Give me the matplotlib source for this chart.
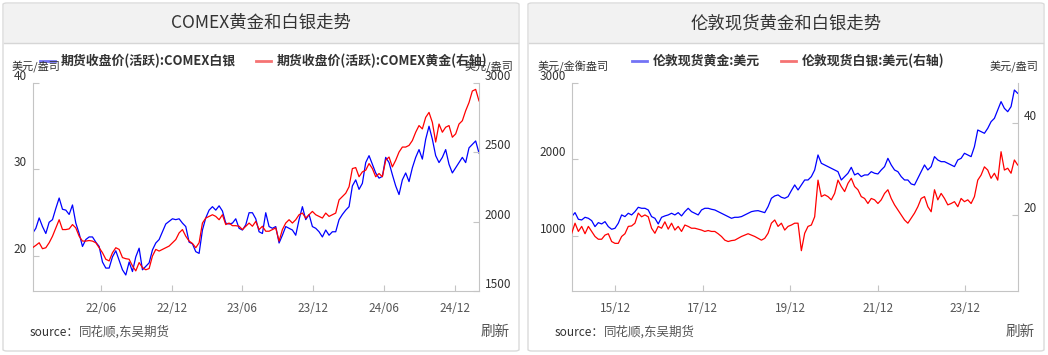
import matplotlib
matplotlib.use('Agg')
import matplotlib.pyplot as plt
import pandas as pd
from matplotlib.patches import FancyBboxPatch, Rectangle
from matplotlib.lines import Line2D

plt.rcParams['font.family'] = ['Noto Sans CJK SC', 'DejaVu Sans']

# ---------------- data ----------------
# left panel: COMEX silver (left axis) / COMEX gold (right axis)
comex_dates = pd.date_range('2021-12-06', '2025-02-02', periods=135)
comex_silver = [
    22.6, 23.2, 24.4, 23.4, 22.6, 23.9, 24.2, 25.5, 26.7, 25.4,
    25.3, 24.8, 25.9, 23.8, 22.6, 21.1, 21.9, 22.2, 22.2, 21.6,
    21.1, 19.3, 18.6, 18.6, 19.9, 20.6, 19.5, 18.4, 17.8, 19.3,
    18.2, 19.9, 20.9, 18.4, 18.8, 19.2, 20.7, 21.5, 21.9, 22.8,
    23.7, 24.0, 24.3, 24.2, 24.3, 23.8, 23.4, 21.6, 21.4, 20.5,
    20.3, 23.0, 24.4, 25.3, 25.7, 25.3, 25.8, 25.2, 23.8, 23.7,
    23.8, 24.3, 23.2, 23.0, 23.6, 25.0, 25.0, 24.3, 22.8,
    22.6, 25.0, 23.4, 23.2, 23.4, 21.5, 22.4, 23.4, 23.2, 23.0,
    22.4, 24.2, 25.7, 24.2, 24.8, 23.4, 23.2, 22.8, 22.2, 23.0,
    22.4, 22.8, 22.8, 24.2, 24.8, 25.3, 25.7, 28.1, 28.8, 27.7,
    28.4, 30.8, 31.6, 30.6, 29.6, 29.0, 29.2, 31.4, 30.8, 29.4,
    28.1, 27.1, 28.8, 29.6, 28.6, 30.2, 31.4, 32.3, 31.2, 33.5,
    35.0, 33.5, 31.6, 30.8, 31.4, 32.3, 30.6, 29.6, 30.2, 30.8,
    31.4, 30.8, 32.5, 32.9, 33.3, 31.9,
]
comex_gold = [
    1812, 1829, 1848, 1805, 1812, 1848, 1895, 1955, 2014, 1943,
    1943, 1948, 1979, 1955, 1895, 1860, 1860, 1864, 1860, 1848,
    1812, 1776, 1729, 1717, 1776, 1812, 1800, 1741, 1733, 1729,
    1681, 1645, 1705, 1669, 1653, 1662, 1752, 1800, 1788, 1800,
    1812, 1824, 1848, 1871, 1919, 1943, 1895, 1860, 1843, 1812,
    1848, 1990, 2026, 2038, 2050, 2038, 2014, 2050, 1979, 1990,
    1971, 1971, 1967, 1943, 1967, 1990, 1967, 2002, 1943,
    1967, 1931, 1931, 1943, 1955, 1860, 1943, 1990, 2014, 1990,
    2014, 2050, 2062, 2026, 2050, 2074, 2050, 2038, 2026, 2062,
    2038, 2050, 2062, 2157, 2181, 2205, 2252, 2383, 2390, 2324,
    2359, 2371, 2419, 2383, 2324, 2347, 2324, 2443, 2466, 2395,
    2443, 2502, 2538, 2538, 2550, 2585, 2645, 2693, 2669, 2752,
    2788, 2716, 2574, 2704, 2645, 2681, 2693, 2609, 2633, 2704,
    2728, 2800, 2859, 2942, 2954, 2871,
]
comex_ticks = ['2022-06-01', '2022-12-01', '2023-06-01', '2023-12-01', '2024-06-01', '2024-12-01']

# right panel: London spot gold (left axis) / silver (right axis)
london_dates = pd.date_range('2014-12-03', '2025-02-09', periods=135)
london_gold = [
    1249, 1301, 1214, 1205, 1240, 1227, 1196, 1118, 1170, 1153,
    1183, 1118, 1083, 1096, 1162, 1271, 1249, 1293, 1271, 1314,
    1371, 1358, 1358, 1336, 1249, 1227, 1153, 1240, 1258, 1271,
    1293, 1271, 1301, 1258, 1314, 1358, 1314, 1293, 1271, 1336,
    1358, 1358, 1345, 1336, 1314, 1293, 1271, 1249, 1227, 1240,
    1240, 1249, 1271, 1293, 1314, 1323, 1327, 1314, 1301, 1380,
    1489, 1520, 1533, 1502, 1489, 1511, 1590, 1664,
    1598, 1664, 1729, 1729, 1773, 1860, 2057, 1948, 1926, 1904,
    1882, 1860, 1838, 1729, 1773, 1817, 1895, 1795, 1817, 1773,
    1795, 1795, 1838, 1817, 1808, 1860, 1904, 2013, 1926, 1860,
    1838, 1773, 1729, 1729, 1677, 1664, 1751, 1838, 1926, 1860,
    1904, 2035, 1991, 1969, 1969, 1948, 1926, 1904, 1991, 2013,
    2079, 2057, 2035, 2166, 2384, 2362, 2341, 2406, 2493, 2537,
    2646, 2756, 2668, 2624, 2690, 2908, 2865,
]
london_silver = [
    16.0, 18.2, 16.4, 17.5, 15.9, 17.5, 16.4, 15.3, 14.7, 14.7,
    15.6, 15.9, 14.2, 13.8, 13.8, 15.3, 15.9, 17.5, 17.6, 18.2,
    20.4, 19.6, 20.0, 19.6, 17.1, 16.0, 17.5, 17.1, 18.5, 16.9,
    18.2, 16.7, 17.5, 16.4, 17.8, 17.5, 17.1, 17.1, 16.9, 16.7,
    16.4, 16.6, 16.4, 16.4, 15.9, 15.3, 14.5, 14.2, 14.4, 14.5,
    14.9, 15.3, 15.6, 15.9, 15.6, 15.3, 14.9, 14.5, 14.9, 16.0,
    18.2, 18.9, 17.5, 18.2, 16.7, 17.5, 17.8, 18.2,
    18.2, 12.2, 16.0, 17.5, 17.8, 19.6, 27.6, 24.0, 24.4, 24.0,
    23.3, 24.7, 27.6, 26.2, 25.1, 26.9, 28.0, 26.2, 25.5, 24.0,
    23.6, 22.5, 23.6, 23.3, 22.5, 23.3, 24.7, 25.5, 23.6, 22.2,
    21.1, 20.0, 18.9, 18.2, 19.3, 20.4, 21.8, 23.6, 24.0, 21.8,
    20.7, 25.5, 23.3, 24.7, 23.6, 22.2, 22.5, 22.9, 21.8, 23.6,
    22.9, 23.3, 22.5, 24.0, 27.6, 28.7, 30.5, 29.8, 28.0, 29.1,
    27.6, 33.8, 29.8, 30.2, 29.1, 32.0, 30.9,
]
london_ticks = ['2015-12-01', '2017-12-01', '2019-12-01', '2021-12-01', '2023-12-01']

# ---------------- figure ----------------
W, H = 1048, 355
fig = plt.figure(figsize=(W / 100, H / 100), dpi=100)


def fx(x):
    return x / W


def fy(y):
    return 1 - y / H


GRID = '#c4c4c4'
TXT = '#333333'


def card(x0, x1, title):
    box = FancyBboxPatch((fx(x0), fy(351)), fx(x1) - fx(x0), (351 - 3) / H,
                         boxstyle='round,pad=0,rounding_size=0.004',
                         transform=fig.transFigure, fc='white', ec='#dadada', lw=1, zorder=0)
    fig.add_artist(box)
    head = Rectangle((fx(x0 + 1), fy(43)), fx(x1 - 1) - fx(x0 + 1), (43 - 4) / H,
                     transform=fig.transFigure, fc='#f2f2f2', ec='none', zorder=0.5)
    fig.add_artist(head)
    fig.add_artist(Line2D([fx(x0 + 1), fx(x1 - 1)], [fy(43), fy(43)], color='#d6d6d6', lw=1))
    fig.text(fx((x0 + x1) / 2), fy(23), title, ha='center', va='center', fontsize=12.5, color=TXT)


def legend_item(x, text, color):
    fig.add_artist(Line2D([fx(x), fx(x + 15)], [fy(61), fy(61)], color=color, lw=2))
    fig.text(fx(x + 21), fy(60.5), text, ha='left', va='center', fontsize=9.3,
             fontweight='bold', color=TXT)


def footer(x0, x1):
    fig.text(fx(x0 + 27), fy(332), 'source：', ha='left', va='center', fontsize=8.5, color=TXT)
    fig.text(fx(x0 + 76), fy(332), '同花顺,东吴期货', ha='left', va='center', fontsize=9,
             color='#555555', style='italic')
    fig.text(fx(x1 - 9), fy(332), '刷新', ha='right', va='center', fontsize=10.5, color='#555555')


def panel(x0, x1, dates, left_vals, left_color, left_lim, left_ticks,
          right_vals, right_color, right_lim, right_ticks, xticks, xfmt):
    ax = fig.add_axes([fx(x0), fy(291), fx(x1) - fx(x0), (291 - 83) / H])
    ax.plot(dates, left_vals, color=left_color, lw=0.9)
    ax.set_xlim(dates[0], dates[-1])
    ax.set_ylim(*left_lim)
    ax2 = ax.twinx()
    ax2.plot(dates, right_vals, color=right_color, lw=0.9)
    ax2.set_ylim(*right_lim)

    for s in ['top', 'right']:
        ax.spines[s].set_visible(False)
    for s in ['top', 'left', 'bottom']:
        ax2.spines[s].set_visible(False)
    for s in ['left', 'bottom']:
        ax.spines[s].set_color(GRID)
    ax2.spines['right'].set_color(GRID)

    xt = pd.to_datetime(xticks)
    ax.set_xticks(xt)
    ax.set_xticklabels([d.strftime(xfmt) for d in xt])
    ax.tick_params(axis='x', direction='in', length=4, color=GRID, labelsize=8.5,
                   labelcolor='#555555', pad=8)

    ax.set_yticks(left_ticks)
    ax.set_yticklabels([str(t) for t in left_ticks], va='bottom')
    ax.tick_params(axis='y', direction='in', length=4, color=GRID, labelsize=8.5,
                   labelcolor=TXT, pad=4)
    ax2.set_yticks(right_ticks)
    ax2.set_yticklabels([str(t) for t in right_ticks], va='bottom')
    ax2.tick_params(axis='y', direction='in', length=4, color=GRID, labelsize=8.5,
                    labelcolor=TXT, pad=4)
    return ax, ax2


# left card
card(3, 519, 'COMEX黄金和白银走势')
panel(32.5, 479, comex_dates, comex_silver, '#0000ff', (15.95, 40), [20, 30, 40],
      comex_gold, '#ff0000', (1500, 3000), [1500, 2000, 2500, 3000],
      comex_ticks, '%y/%m')
legend_item(40, '期货收盘价(活跃):COMEX白银', '#7373f5')
legend_item(256, '期货收盘价(活跃):COMEX黄金(右轴)', '#f57373')
fig.text(fx(12), fy(66.5), '美元/盎司', ha='left', va='center', fontsize=8, color=TXT)
fig.text(fx(513), fy(66.5), '美元/盎司', ha='right', va='center', fontsize=8, color=TXT)
footer(3, 519)

# right card
card(528, 1044, '伦敦现货黄金和白银走势')
panel(571.7, 1017.7, london_dates, london_gold, '#0000ff', (274, 3000), [1000, 2000, 3000],
      london_silver, '#ff0000', (3.4, 48.8), [20, 40],
      london_ticks, '%y/%m')
legend_item(632, '伦敦现货黄金:美元', '#7373f5')
legend_item(781, '伦敦现货白银:美元(右轴)', '#f57373')
fig.text(fx(538), fy(66.5), '美元/金衡盎司', ha='left', va='center', fontsize=8, color=TXT)
fig.text(fx(1038), fy(66.5), '美元/盎司', ha='right', va='center', fontsize=8, color=TXT)
footer(528, 1044)

fig.savefig('out.png', dpi=100)
